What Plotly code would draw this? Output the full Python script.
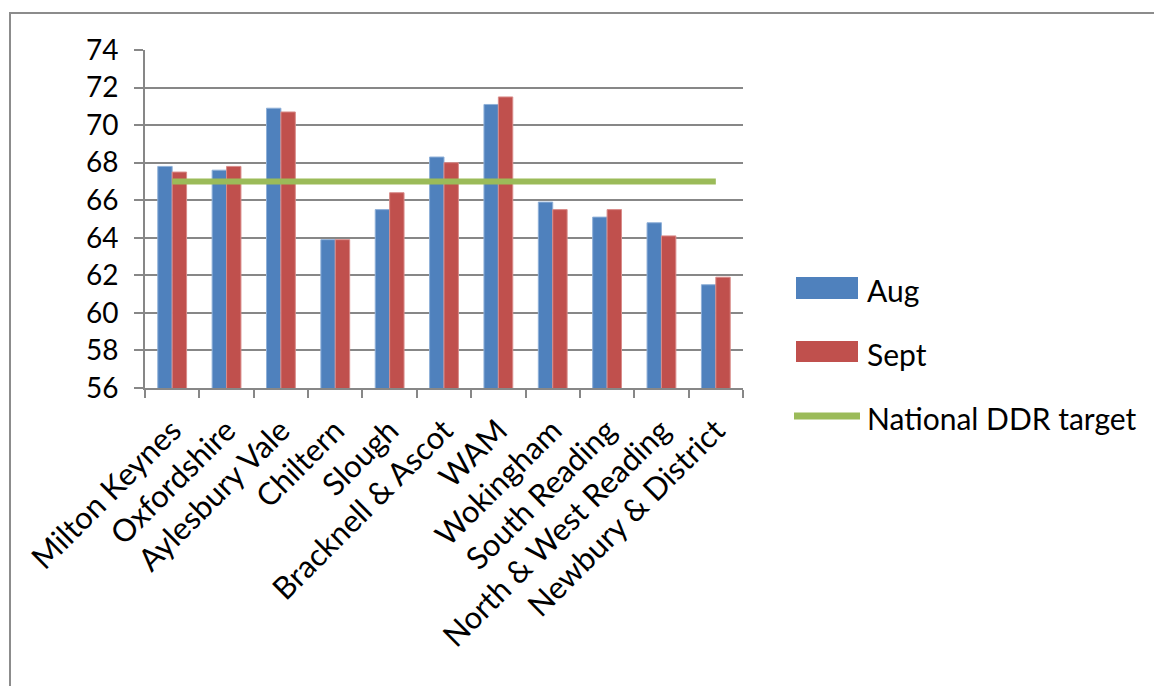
import plotly.graph_objects as go

categories = ["Milton Keynes", "Oxfordshire", "Aylesbury Vale", "Chiltern", "Slough",
              "Bracknell & Ascot", "WAM", "Wokingham", "South Reading",
              "North & West Reading", "Newbury & District"]
aug = [67.8, 67.6, 70.9, 63.9, 65.5, 68.3, 71.1, 65.9, 65.1, 64.8, 61.5]
sept = [67.5, 67.8, 70.7, 63.9, 66.4, 68.0, 71.5, 65.5, 65.5, 64.1, 61.9]
target = [67.0] * len(categories)
series_names = ["Aug", "Sept", "National DDR target"]
y_ticks = list(range(56, 75, 2))

BLUE = "#4F81BD"
RED = "#C0504D"
GREEN = "#9BBB59"
GRID = "#878787"
FONT = "Lato"

fig = go.Figure()
fig.add_trace(go.Bar(x=categories, y=aug, name=series_names[0], marker_color=BLUE,
                     marker_line=dict(color="#8fb0d8", width=1)))
fig.add_trace(go.Bar(x=categories, y=sept, name=series_names[1], marker_color=RED,
                     marker_line=dict(color="#d98c8a", width=1)))
fig.add_trace(go.Scatter(x=categories, y=target, name=series_names[2], mode="lines",
                         line=dict(color=GREEN, width=6)))

W, H = 1154, 686
L, R, T, B = 145, 743, 50, 388
pw, ph = R - L, B - T

def px(x):
    return (x - L) / pw

def py(y):
    return (B - y) / ph

shapes = [
    # outer chart frame
    dict(type="rect", xref="paper", yref="paper", x0=px(10), y0=py(13), x1=px(1200), y1=py(720),
         line=dict(color="#8c8c8c", width=2), fillcolor="rgba(0,0,0,0)", layer="below"),
    # legend symbols
    dict(type="rect", xref="paper", yref="paper", x0=px(796), x1=px(858), y0=py(299), y1=py(277),
         fillcolor=BLUE, line=dict(width=0)),
    dict(type="rect", xref="paper", yref="paper", x0=px(796), x1=px(858), y0=py(362), y1=py(341),
         fillcolor=RED, line=dict(width=0)),
    dict(type="line", xref="paper", yref="paper", x0=px(794), x1=px(860), y0=py(416), y1=py(416),
         line=dict(color=GREEN, width=7)),
]
annotations = []
for name, yc in zip(series_names, [290, 354, 418]):
    annotations.append(dict(text=name, xref="paper", yref="paper", x=px(865), y=py(yc),
                            xanchor="left", yanchor="middle", showarrow=False,
                            font=dict(family=FONT, size=30, color="black")))

fig.update_layout(
    width=W, height=H,
    margin=dict(l=L, r=W - R, t=T, b=H - B),
    paper_bgcolor="white", plot_bgcolor="white",
    barmode="group", bargap=0.47, bargroupgap=0,
    showlegend=False,
    shapes=shapes, annotations=annotations,
    font=dict(family=FONT, size=29, color="black"),
)
fig.update_xaxes(showline=True, linecolor=GRID, linewidth=2, ticks="outside", tickson="boundaries",
                 ticklen=8, tickcolor=GRID, tickwidth=2, tickangle=-45, showgrid=False,
                 tickfont=dict(family=FONT, size=31, color="black"), ticklabelstandoff=10)
fig.update_yaxes(range=[56, 74], tickvals=y_ticks, showline=True, linecolor=GRID, linewidth=2,
                 ticks="outside", ticklen=9, tickcolor=GRID, tickwidth=2,
                 showgrid=True, gridcolor=GRID, gridwidth=2, zeroline=False,
                 tickfont=dict(family=FONT, size=28, color="black"), ticklabelstandoff=10)

fig.write_html("out.html")
